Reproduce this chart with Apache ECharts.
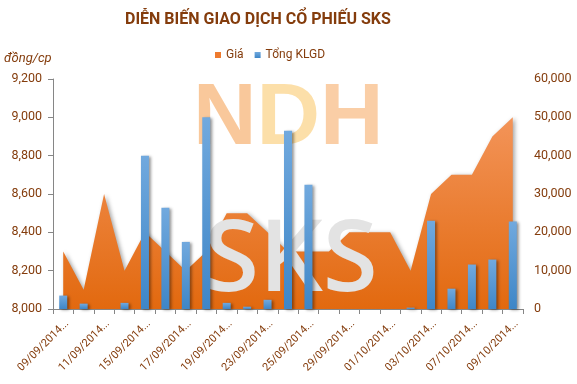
<!DOCTYPE html>
<html>
<head>
<meta charset="utf-8">
<script src="https://cdn.jsdelivr.net/npm/echarts@6/dist/echarts.min.js"></script>
<style>html,body{margin:0;padding:0;background:#fff}#c{width:577px;height:384px}</style>
</head>
<body>
<div id="c"></div>
<script>
const categories = ['09/09/2014','10/09/2014','11/09/2014','12/09/2014','15/09/2014','16/09/2014','17/09/2014','18/09/2014','19/09/2014','22/09/2014','23/09/2014','24/09/2014','25/09/2014','26/09/2014','29/09/2014','30/09/2014','01/10/2014','02/10/2014','03/10/2014','06/10/2014','07/10/2014','08/10/2014','09/10/2014'];
const priceValues = [8300,8100,8600,8200,8400,8300,8200,8300,8500,8500,8400,8300,8300,8300,8400,8400,8400,8200,8600,8700,8700,8900,9000];
const volumeValues = [3500,1400,0,1600,40000,26400,17500,50000,1600,600,2400,46500,32400,0,0,0,0,350,23000,5300,11600,12900,22800];
const leftTicks = {min:8000, max:9200, interval:200};
const rightTicks = {min:0, max:60000, interval:10000};
const titleText = 'DIỄN BIẾN GIAO DỊCH CỔ PHIẾU SKS';
const seriesNames = ['Giá','Tổng KLGD'];
const unitText = 'đồng/cp';

const brown = '#843C0C';
const fmt = v => String(v).replace(/\B(?=(\d{3})+(?!\d))/g, ',');
const lg = (x2,y2,stops) => ({type:'linear',x:0,y:0,x2:x2,y2:y2,global:false,
  colorStops:stops.map(s=>({offset:s[0],color:s[1]}))});
const chart = echarts.init(document.getElementById('c'), null, {renderer:'canvas'});
chart.setOption({
  animation:false,
  backgroundColor:'#fff',
  textStyle:{fontFamily:'Roboto'},
  title:{text:titleText,left:125,top:12,padding:0,textStyle:{fontFamily:'Roboto',fontWeight:'bold',fontSize:16,color:brown}},
  legend:{data:seriesNames,left:210,top:44,itemWidth:6,itemHeight:6,itemGap:11,icon:'rect',
    textStyle:{color:brown,fontSize:12,fontFamily:'Roboto'}},
  grid:{left:53,right:54,top:79,bottom:75,containLabel:false},
  xAxis:{type:'category',data:categories,boundaryGap:true,
    axisLine:{lineStyle:{color:'#868686',width:1}},
    axisTick:{show:true,interval:0,length:5,lineStyle:{color:'#868686'}},
    axisLabel:{interval:1,rotate:45,margin:9,align:'right',verticalAlign:'top',color:brown,fontSize:11,fontFamily:'Roboto',
      formatter:v=>v+'...'},
    splitLine:{show:false}},
  yAxis:[
    {type:'value',min:leftTicks.min,max:leftTicks.max,interval:leftTicks.interval,position:'left',
     axisLine:{show:true,lineStyle:{color:'#868686'}},axisTick:{show:true,length:5,lineStyle:{color:'#868686'}},
     axisLabel:{margin:11,color:brown,fontSize:12.5,fontFamily:'Roboto',formatter:fmt},splitLine:{show:false}},
    {type:'value',min:rightTicks.min,max:rightTicks.max,interval:rightTicks.interval,position:'right',
     axisLine:{show:false},axisTick:{show:false},
     axisLabel:{margin:11,color:brown,fontSize:12.5,fontFamily:'Roboto',formatter:fmt},splitLine:{show:false}}
  ],
  graphic:[
    {type:'text',left:4,top:52,z:5,style:{text:unitText,fill:brown,font:'italic 13px Roboto'}},
    {type:'text',left:193,top:76,z:5,style:{text:'{a|N}{b|D}{c|H}',opacity:0.85,
      rich:{a:{fill:'#F8BE8A',font:'bold 88px "Liberation Sans"'},
            b:{fill:'#FCD99A',font:'bold 88px "Liberation Sans"'},
            c:{fill:'#F9C596',font:'bold 88px "Liberation Sans"'}}}},
    {type:'text',left:204,top:213,z:5,style:{text:'SKS',font:'600 100px "Open Sans"',fill:'#E3E3E3',
      shadowColor:'rgba(0,0,0,0.6)',shadowBlur:5,shadowOffsetX:2,shadowOffsetY:2}}
  ],
  series:[
    {name:seriesNames[0],type:'line',yAxisIndex:0,data:priceValues,z:1,symbol:'none',
     lineStyle:{width:0},
     itemStyle:{color:'#EE7A2E'},
     areaStyle:{origin:'start',opacity:1,
       color:lg(0,1,[[0,'#F39459'],[1,'#E2690F']]),
       shadowColor:'rgba(0,0,0,0.35)',shadowBlur:4,shadowOffsetX:2,shadowOffsetY:1}},
    {name:seriesNames[1],type:'bar',yAxisIndex:1,data:volumeValues,z:50,barWidth:8,
     itemStyle:{color:lg(0,1,[[0,'#71A9DE'],[1,'#3E86C7']]),
       shadowColor:'rgba(0,0,0,0.4)',shadowBlur:3,shadowOffsetX:2,shadowOffsetY:1}}
  ]
});
</script>
</body>
</html>
